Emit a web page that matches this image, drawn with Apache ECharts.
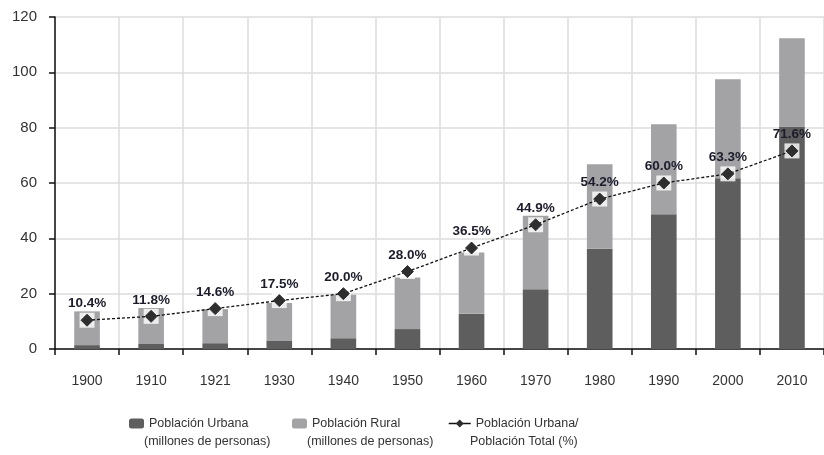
<!DOCTYPE html>
<html>
<head>
<meta charset="utf-8">
<script src="https://cdn.jsdelivr.net/npm/echarts@6/dist/echarts.min.js"></script>
<style>
  html, body { margin: 0; padding: 0; background: #fff; }
  #chart { width: 824px; height: 455px; }
</style>
</head>
<body>
<div id="chart"></div>
<script>
"use strict";

// datos
var years = ["1900", "1910", "1921", "1930", "1940", "1950", "1960", "1970", "1980", "1990", "2000", "2010"];
var urbana = [1.4, 1.8, 2.1, 2.9, 3.9, 7.2, 12.7, 21.6, 36.2, 48.7, 61.7, 80.4];
var rural = [12.2, 13.0, 12.3, 13.7, 15.7, 18.6, 22.2, 26.6, 30.6, 32.5, 35.8, 31.9];
var porcentaje = [10.4, 11.8, 14.6, 17.5, 20.0, 28.0, 36.5, 44.9, 54.2, 60.0, 63.3, 71.6];

// leyenda: primera linea = nombre de la serie, segunda linea aparte
var nomUrbana = "Población Urbana";
var nomRural = "Población Rural";
var nomPct = "Población Urbana/";
var subUrbana = "(millones de personas)";
var subRural = "(millones de personas)";
var subPct = "Población Total (%)";

var fuente = "Liberation Sans";

function leyenda(nombre, x, ancho){
    return {
        data: [nombre],
        left: x,
        top: 412,
        itemWidth: ancho,
        itemHeight: 10,
        itemGap: 0,
        lineStyle: { type: "solid", width: 1.5, color: "#111" },
        textStyle: { fontFamily: fuente, fontSize: 12.5, color: "#333" }
    };
}

function subtitulo(texto, x){
    return {
        type: "text",
        left: x,
        top: 435,
        style: { text: texto, fontFamily: fuente, fontSize: 12.5, fill: "#333" }
    };
}

window.onload = function(){
    var myChart = echarts.init(document.getElementById("chart"));

    var option = {
        animation: false,
        backgroundColor: "#fff",
        grid: { left: 55, right: -6, top: 17, bottom: 106, containLabel: false },
        legend: [
            leyenda(nomUrbana, 124, 15),
            leyenda(nomRural, 287, 15),
            leyenda(nomPct, 443, 22)
        ],
        graphic: [
            subtitulo(subUrbana, 144),
            subtitulo(subRural, 307),
            subtitulo(subPct, 470)
        ],
        xAxis: {
            type: "category",
            data: years,
            axisLine: { lineStyle: { color: "#111", width: 1.5 } },
            axisTick: { show: true, length: 6, lineStyle: { color: "#111", width: 1.5 } },
            axisLabel: { color: "#333", fontFamily: fuente, fontSize: 14, margin: 25 },
            splitLine: { show: true, lineStyle: { color: "#dcdcdc", width: 1.5 } }
        },
        yAxis: {
            type: "value",
            min: 0,
            max: 120,
            interval: 20,
            axisLine: { show: true, lineStyle: { color: "#111", width: 1.5 } },
            axisTick: { show: true, length: 6, lineStyle: { color: "#111", width: 1.5 } },
            axisLabel: { color: "#333", fontFamily: fuente, fontSize: 15, margin: 18 },
            splitLine: { show: true, lineStyle: { color: "#dcdcdc", width: 1.5 } }
        },
        series: [
            {
                name: nomUrbana,
                type: "bar",
                stack: "total",
                barWidth: "40%",
                data: urbana,
                itemStyle: { color: "#5e5e5e" }
            },
            {
                name: nomRural,
                type: "bar",
                stack: "total",
                data: rural,
                itemStyle: { color: "#a3a3a6" }
            },
            {
                // cuadros blancos detras de los marcadores
                type: "scatter",
                symbol: "rect",
                symbolSize: 15,
                data: porcentaje,
                itemStyle: { color: "#fff" },
                z: 3,
                silent: true
            },
            {
                name: nomPct,
                type: "line",
                data: porcentaje,
                symbol: "diamond",
                symbolSize: 12,
                z: 4,
                lineStyle: { color: "#111", width: 1.3, type: [3, 2] },
                itemStyle: { color: "#2e2e2e", borderColor: "#2e2e2e" },
                label: {
                    show: true,
                    position: "top",
                    distance: 3,
                    formatter: function(p){ return p.value.toFixed(1) + "%"; },
                    color: "#1c1c2c",
                    fontFamily: fuente,
                    fontSize: 13.5,
                    fontWeight: "bold"
                }
            }
        ]
    };

    myChart.setOption(option);
};
</script>
</body>
</html>
